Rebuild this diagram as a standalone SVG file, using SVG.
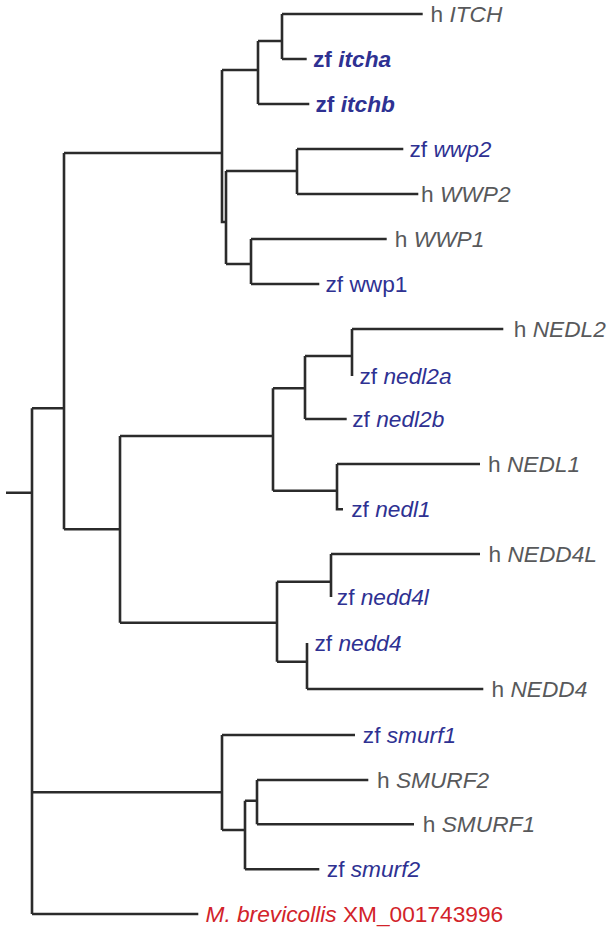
<svg xmlns="http://www.w3.org/2000/svg" width="614" height="930" viewBox="0 0 614 930">
<style>
.br{fill:none;stroke:#2b2b2b;stroke-width:2.6;stroke-linecap:butt;stroke-linejoin:miter}
text{font-family:"Liberation Sans",Arial,Helvetica,sans-serif;font-size:22.7px}
.h{fill:#58595b}
.z{fill:#2e3192}
.r{fill:#d2232a}
.b{font-weight:bold}
.i{font-style:italic}
</style>
<rect width="614" height="930" fill="#fff"/>
<g id="connectors">
<path class="br" d="M6,492.7H32M32,408.3V914M32,408.3H64M64,153V529.3M64,153H222M222,70V222H226"/>
<path class="br" d="M222,70H258M258,41V104M258,104H309.3M258,41H282M282,14V59M282,14H422.7M282,59H306.7"/>
<path class="br" d="M226,171V264M226,171H297M297,149V194M297,149H403.3M297,194H418.3M226,264H251M251,239V284M251,239H386.7M251,284H319.3"/>
<path class="br" d="M64,529.3H120M120,436V622.7M120,436H273M273,388.3V490.7M273,388.3H305M305,356V419M305,356H352M352,329V376M352,329H503.3M305,419H346.7"/>
<path class="br" d="M273,490.7H337M337,464V509.3H343M337,464H480"/>
<path class="br" d="M120,622.7H277M277,581.7V661.7M277,581.7H331M331,554V597M331,554H480M277,661.7H307M307,643V689M307,689H483.3"/>
<path class="br" d="M32,792.3H222M222,735V830M222,735H355M222,830H245M245,800.7V869.3M245,800.7H257M257,780V824.3M257,780H368.3M257,824.3H414M245,869.3H319.3"/>
<path class="br" d="M32,914H198.3"/>
</g>
<g id="ITCH"><text class="h" x="430.5" y="22">h <tspan class="i">ITCH</tspan></text></g>
<g id="itcha"><text class="z b" x="313" y="67">zf <tspan class="i">itcha</tspan></text></g>
<g id="itchb"><text class="z b" x="315.5" y="112">zf <tspan class="i">itchb</tspan></text></g>
<g id="wwp2"><text class="z" x="409.5" y="157">zf <tspan class="i">wwp2</tspan></text></g>
<g id="WWP2"><text class="h" x="421" y="202">h <tspan class="i">WWP2</tspan></text></g>
<g id="WWP1"><text class="h" x="394.8" y="247">h <tspan class="i">WWP1</tspan></text></g>
<g id="wwp1-zf"><text class="z" x="325.5" y="292">zf wwp1</text></g>
<g id="NEDL2"><text class="h" x="513.8" y="337">h <tspan class="i">NEDL2</tspan></text></g>
<g id="nedl2a"><text class="z" x="359.5" y="384">zf <tspan class="i">nedl2a</tspan></text></g>
<g id="nedl2b"><text class="z" x="352.2" y="427">zf <tspan class="i">nedl2b</tspan></text></g>
<g id="NEDL1"><text class="h" x="488" y="472">h <tspan class="i">NEDL1</tspan></text></g>
<g id="nedl1"><text class="z" x="351.2" y="517">zf <tspan class="i">nedl1</tspan></text></g>
<g id="NEDD4L"><text class="h" x="488.5" y="562">h <tspan class="i">NEDD4L</tspan></text></g>
<g id="nedd4l"><text class="z" x="336.8" y="605">zf <tspan class="i">nedd4l</tspan></text></g>
<g id="nedd4"><text class="z" x="314.5" y="651">zf <tspan class="i">nedd4</tspan></text></g>
<g id="NEDD4"><text class="h" x="491.5" y="697">h <tspan class="i">NEDD4</tspan></text></g>
<g id="smurf1"><text class="z" x="362.8" y="743">zf <tspan class="i">smurf1</tspan></text></g>
<g id="SMURF2"><text class="h" x="377" y="788">h <tspan class="i">SMURF2</tspan></text></g>
<g id="SMURF1"><text class="h" x="422.8" y="832">h <tspan class="i">SMURF1</tspan></text></g>
<g id="smurf2"><text class="z" x="326.8" y="877">zf <tspan class="i">smurf2</tspan></text></g>
<g id="Mbrevicollis"><text class="r" x="205.5" y="922"><tspan class="i">M. brevicollis</tspan> XM_001743996</text></g>
</svg>
